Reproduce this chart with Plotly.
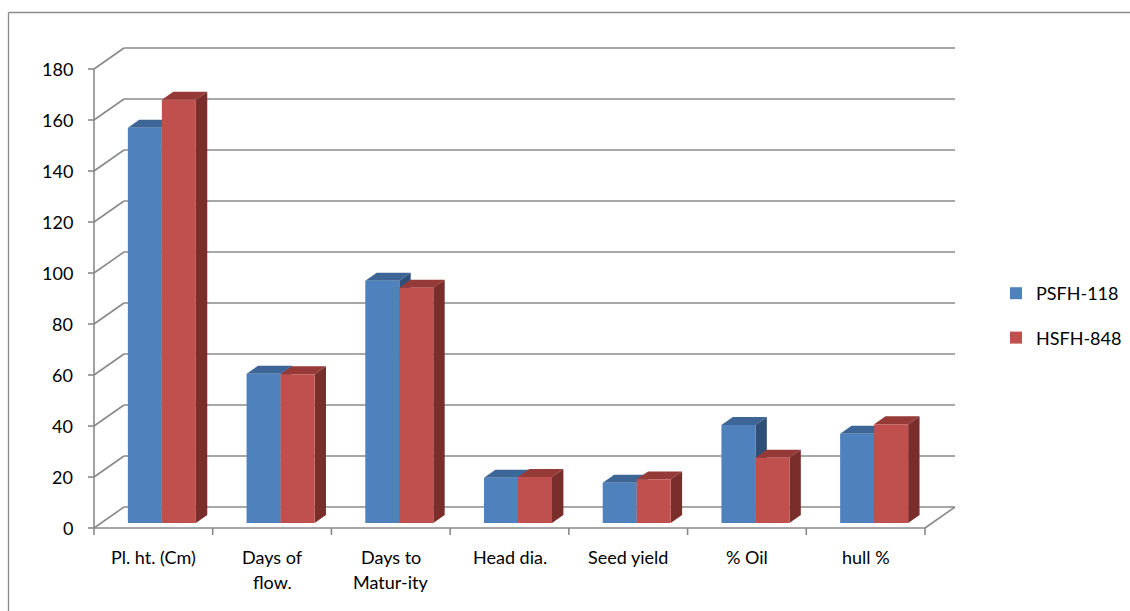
import plotly.graph_objects as go

# ---- data -------------------------------------------------------------
categories = ["Pl. ht. (Cm)", "Days of flow.", "Days to Matur-ity",
              "Head dia.", "Seed yield", "% Oil", "hull %"]
category_lines = [["Pl. ht. (Cm)"], ["Days of", "flow."], ["Days to", "Matur-ity"],
                  ["Head dia."], ["Seed yield"], ["% Oil"], ["hull %"]]
psfh_118 = [155, 58.5, 95, 17.7, 15.8, 38.4, 35]
hsfh_848 = [166, 58.3, 92.2, 18, 17.1, 25.6, 38.7]
value_ticks = [0, 20, 40, 60, 80, 100, 120, 140, 160, 180]

# ---- pseudo-3D geometry (one axis unit = one category / one value) ----
W, H = 1130, 611
ORIGIN_X, ORIGIN_Y = 94, 528          # pixel of (0, 0) on the front plane
PX_PER_CAT = (925 - 94) / 7
PX_PER_VAL = 2.55
DEPTH_X = 30 / PX_PER_CAT             # full floor depth, shown as a shift
DEPTH_Y = 21 / PX_PER_VAL
BAR_FRONT, BAR_BACK = 0.24, 0.62      # bar slab inside the floor depth
BAR_SHIFT_X = 8.5 / PX_PER_CAT        # sideways shift of the bar front plane
BAR_W = 34 / PX_PER_CAT

x_range = [-ORIGIN_X / PX_PER_CAT, (W - ORIGIN_X) / PX_PER_CAT]
y_range = [-(H - ORIGIN_Y) / PX_PER_VAL, ORIGIN_Y / PX_PER_VAL]

GRID = "#8a8a8a"
FONT = dict(family="Lato, 'Open Sans', sans-serif", size=18, color="#000000")

series = [
    dict(name="PSFH-118", values=psfh_118, front="#4f81bd", top="#3d6696", side="#2f4e78", shift=-1),
    dict(name="HSFH-848", values=hsfh_848, front="#c0504d", top="#963a37", side="#7a2e2c", shift=0),
]

shapes = []


def seg(x0, y0, x1, y1, color=GRID, width=1.6):
    shapes.append(dict(type="line", xref="x", yref="y", x0=x0, y0=y0, x1=x1, y1=y1,
                       line=dict(color=color, width=width), layer="below"))


def poly(points, color):
    path = "M " + " L ".join(f"{px},{py}" for px, py in points) + " Z"
    shapes.append(dict(type="path", xref="x", yref="y", path=path,
                       fillcolor=color, line=dict(width=0), layer="below"))


n = len(categories)

# back wall gridlines, side wall diagonals and value ticks
for v in value_ticks:
    seg(DEPTH_X, v + DEPTH_Y, n + DEPTH_X, v + DEPTH_Y)
    seg(0, v, DEPTH_X, v + DEPTH_Y)
    seg(-6 / PX_PER_CAT, v, 0, v)
# front value axis and floor outline
seg(0, 0, 0, value_ticks[-1])
seg(0, 0, n, 0)
seg(n, 0, n + DEPTH_X, DEPTH_Y)
# category ticks
for k in range(n + 1):
    seg(k, 0, k, -7 / PX_PER_VAL)

# top and side faces of each bar
b0 = BAR_FRONT * DEPTH_Y
ddx = (BAR_BACK - BAR_FRONT) * DEPTH_X
ddy = (BAR_BACK - BAR_FRONT) * DEPTH_Y
for i in range(n):
    centre = i + 0.5 + BAR_SHIFT_X
    for s in series:
        v = s["values"][i]
        x0 = centre + s["shift"] * BAR_W
        x1 = x0 + BAR_W
        poly([(x0, b0 + v), (x1, b0 + v), (x1 + ddx, b0 + v + ddy), (x0 + ddx, b0 + v + ddy)], s["top"])
        poly([(x1, b0), (x1, b0 + v), (x1 + ddx, b0 + v + ddy), (x1 + ddx, b0 + ddy)], s["side"])

fig = go.Figure()
for gi, s in enumerate(series):
    xs = [i + 0.5 + BAR_SHIFT_X + (s["shift"] + 0.5) * BAR_W for i in range(n)]
    fig.add_trace(go.Bar(
        x=xs, y=s["values"], base=b0, width=BAR_W, name=s["name"],
        marker=dict(color=s["front"], line=dict(width=0)),
        legendgroup=f"g{gi}", hovertext=categories, hoverinfo="text+y",
    ))

annotations = []
for v in value_ticks:
    annotations.append(dict(x=0, y=v, xref="x", yref="y", text=str(v), showarrow=False,
                            xanchor="right", yanchor="middle", xshift=-19, font=FONT))
for i, lines in enumerate(category_lines):
    for k, line in enumerate(lines):
        annotations.append(dict(x=i + 0.5, y=0, xref="x", yref="y", text=line, showarrow=False,
                                xanchor="center", yanchor="middle", yshift=-29 - 25 * k, font=FONT))

# outer chart frame
shapes.append(dict(type="line", xref="paper", yref="paper", x0=8.5 / W, x1=1.0,
                   y0=1 - 12.5 / H, y1=1 - 12.5 / H, line=dict(color=GRID, width=1.3), layer="below"))
shapes.append(dict(type="line", xref="paper", yref="paper", x0=8.5 / W, x1=8.5 / W,
                   y0=0, y1=1 - 12.5 / H, line=dict(color=GRID, width=1.3), layer="below"))

fig.update_layout(
    width=W, height=H, autosize=False,
    margin=dict(l=0, r=0, t=0, b=0, pad=0),
    paper_bgcolor="white", plot_bgcolor="white",
    barmode="overlay",
    xaxis=dict(range=x_range, domain=[0, 1], visible=False, fixedrange=True),
    yaxis=dict(range=y_range, domain=[0, 1], visible=False, fixedrange=True),
    shapes=shapes, annotations=annotations,
    showlegend=True,
    legend=dict(x=996 / W, y=1 - 275 / H, xanchor="left", yanchor="top",
                font=FONT, bgcolor="rgba(0,0,0,0)", borderwidth=0,
                traceorder="grouped", tracegroupgap=18, itemwidth=30),
    font=FONT,
)

fig.write_html("out.html")
